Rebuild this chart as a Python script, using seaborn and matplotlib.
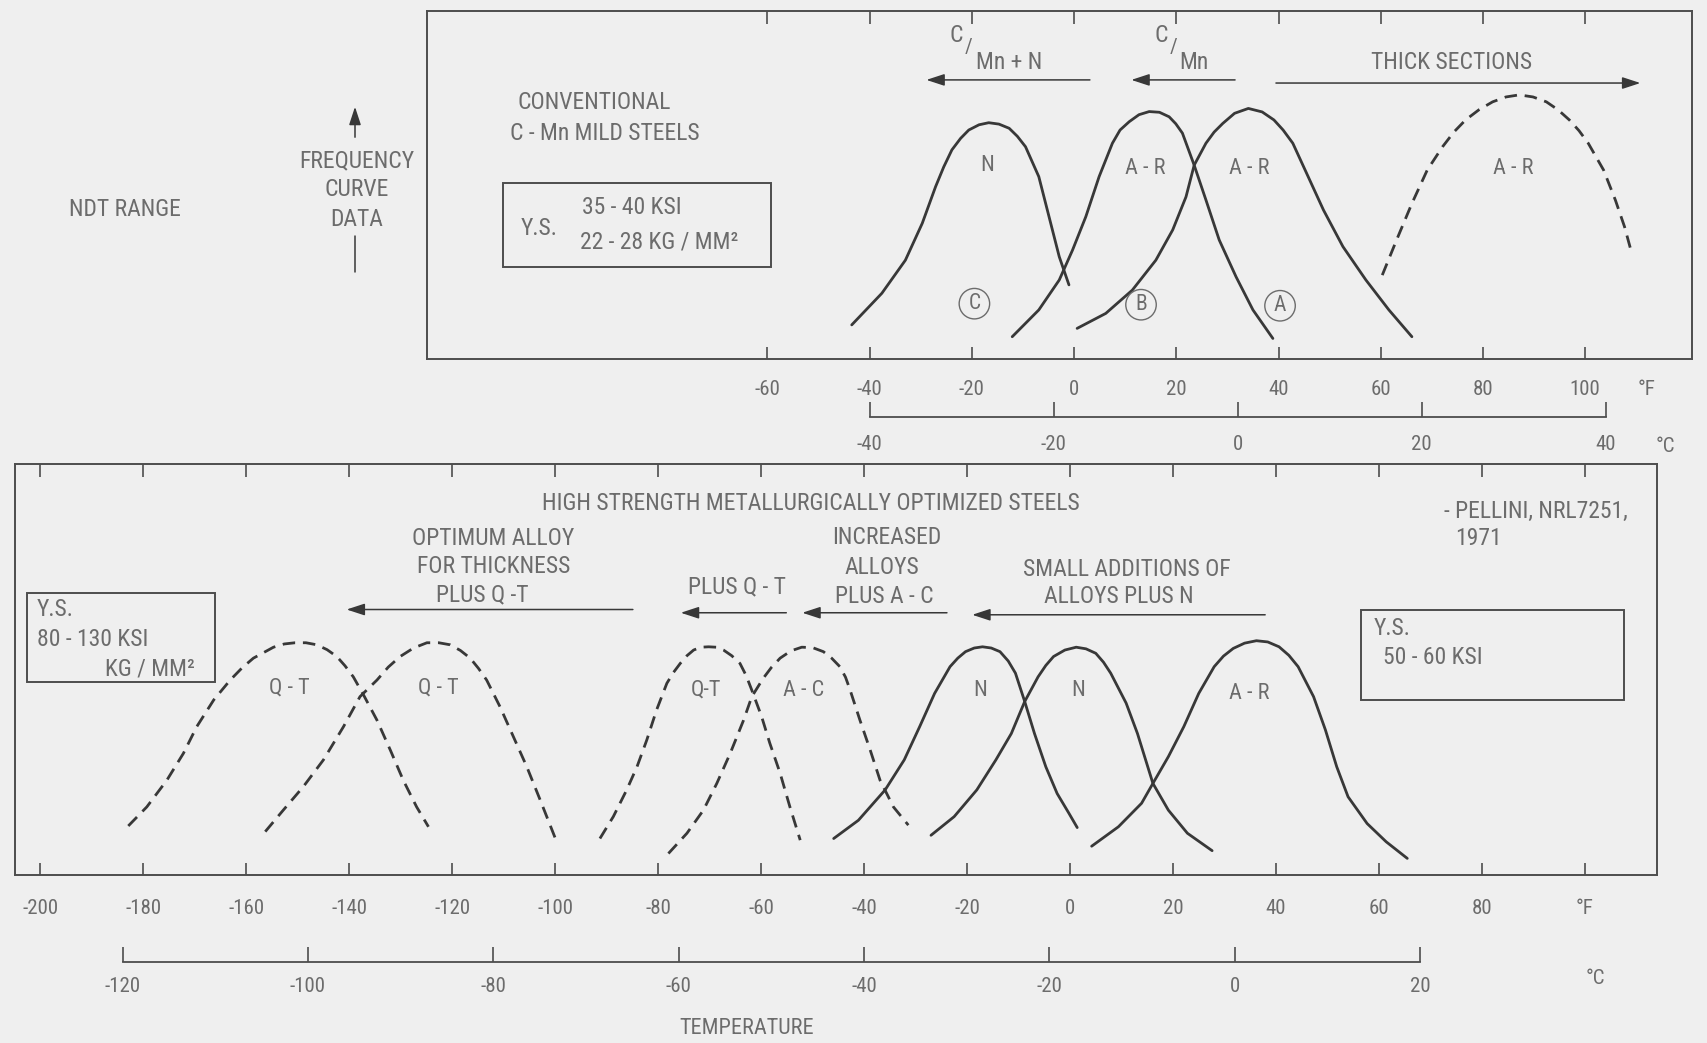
import numpy as np
import pandas as pd
import matplotlib
matplotlib.use("Agg")
import matplotlib.pyplot as plt
from matplotlib import font_manager
from matplotlib.patches import Rectangle, FancyArrowPatch
from matplotlib.lines import Line2D
import seaborn as sns

# ---------------------------------------------------------------------------
# NDT temperature frequency curves (temperature in deg F, relative frequency)
# ---------------------------------------------------------------------------
# Conventional C-Mn mild steels
N_C_TEMP = [-43.5, -37.6, -33.0, -29.7, -27.1, -25.5, -23.9, -22.2, -20.6,
            -18.6, -16.7, -14.7, -12.7, -11.1, -9.5, -6.9, -4.9, -2.9, -1.0]
N_C_FREQ = [9.8, 18.9, 28.4, 39.0, 49.5, 55.2, 60.1, 63.4, 65.8,
            67.3, 67.9, 67.5, 66.3, 64.0, 61.0, 52.4, 40.9, 29.4, 21.3]

AR_B_TEMP = [-12.1, -6.9, -2.9, -0.3, 2.3, 4.9, 7.5, 9.0, 10.8, 12.7, 14.7,
             16.7, 18.6, 19.9, 21.2, 23.5, 25.8, 28.4, 31.7, 35.0, 38.9]
AR_B_FREQ = [6.4, 14.1, 22.7, 31.3, 40.9, 52.4, 62.0, 65.8, 68.2, 70.2, 71.1,
             70.9, 69.6, 67.6, 64.9, 55.7, 45.7, 34.2, 23.6, 14.1, 5.9]

AR_A_TEMP = [0.6, 6.2, 11.4, 16.0, 19.3, 21.9, 23.5, 25.8, 27.4, 29.1, 31.4,
             34.1, 36.8, 39.1, 40.9, 42.8, 45.8, 48.8, 52.6, 57.1, 61.6, 66.1]
AR_A_FREQ = [8.8, 13.1, 19.8, 28.4, 37.1, 46.6, 55.7, 62.0, 65.2, 67.7, 70.6,
             72.0, 71.0, 68.7, 65.8, 62.0, 52.4, 42.8, 32.3, 22.7, 14.1, 6.4]

AR_THICK_TEMP = [60.3, 63.1, 66.1, 69.1, 72.1, 74.3, 76.6, 79.2, 81.9, 84.5,
                 87.1, 89.8, 92.4, 94.7, 96.9, 98.8, 100.6, 103.6, 105.9,
                 107.7, 109.2]
AR_THICK_FREQ = [24.1, 34.2, 44.7, 54.3, 61.0, 65.2, 68.7, 71.6, 73.9, 75.3,
                 75.9, 75.3, 73.9, 71.6, 68.7, 65.6, 62.0, 54.3, 45.7,
                 38.0, 29.9]

# High strength metallurgically optimized steels
QT_1_TEMP = [-182.9, -179.3, -175.4, -172.2, -169.6, -166.3, -163.1, -160.8,
             -158.6, -154.7, -152.6, -150.5, -148.4, -146.3, -144.3, -142.4,
             -140.8, -139.2, -137.2, -134.6, -132.0, -129.5, -126.9, -124.6]
QT_1_FREQ = [10.9, 15.6, 22.2, 28.8, 35.4, 42.0, 46.9, 49.9,
             52.3, 55.0, 55.8, 56.1, 56.1, 55.6, 54.4, 52.7,
             50.4, 47.7, 43.2, 37.0, 29.6, 22.2, 15.6, 10.7]

QT_2_TEMP = [-156.3, -152.8, -148.9, -145.0, -141.1, -137.9, -134.6, -132.4,
             -130.1, -127.5, -124.9, -122.6, -120.4, -118.4, -116.5, -114.9,
             -113.3, -110.7, -108.1, -105.5, -102.9, -99.7]
QT_2_FREQ = [9.5, 14.8, 20.6, 27.2, 35.4, 42.8, 46.9, 50.1,
             52.7, 54.8, 56.1, 56.1, 55.6, 54.2, 52.3, 49.8,
             46.9, 40.3, 32.9, 25.5, 17.3, 7.0]

QT_3_TEMP = [-91.3, -88.7, -86.1, -84.1, -82.2, -80.3, -78.3, -77.0, -75.7,
             -74.4, -73.1, -71.7, -70.2, -68.7, -67.3, -65.7, -64.1, -62.9,
             -61.8, -59.9, -58.3, -56.3, -54.4, -52.4]
QT_3_FREQ = [7.8, 13.2, 19.8, 25.5, 32.1, 39.5, 46.1, 48.8, 51.0,
             52.9, 54.3, 55.0, 55.1, 55.0, 54.3, 52.9, 51.0, 48.0,
             44.4, 37.9, 31.3, 23.9, 15.6, 7.4]

AC_TEMP = [-78.0, -74.4, -71.2, -68.6, -66.0, -63.4, -61.8, -59.6, -58.0,
           -56.3, -54.2, -52.1, -50.0, -47.9, -46.3, -44.7, -43.6, -42.7,
           -40.8, -38.8, -36.9, -34.3, -31.4]
AC_FREQ = [4.1, 9.1, 14.8, 21.4, 28.8, 37.0, 42.8, 47.3, 50.0,
           52.3, 54.1, 55.0, 54.9, 53.9, 52.3, 50.2, 47.6, 44.4,
           37.0, 29.6, 22.2, 15.6, 11.1]

N_1_TEMP = [-45.9, -41.1, -35.9, -32.2, -29.2, -26.3, -23.3, -21.8, -20.3,
            -18.6, -17.0, -15.3, -13.6, -12.0, -10.6, -8.8, -6.9, -4.7, -2.5,
            -0.2, 1.4]
N_1_FREQ = [7.8, 12.3, 19.8, 27.2, 35.4, 43.6, 50.2, 52.3, 53.9,
            54.8, 55.1, 54.8, 53.9, 51.6, 48.6, 41.6, 33.7, 25.5, 18.9,
            14.0, 10.5]

N_2_TEMP = [-27.0, -22.5, -18.1, -14.4, -11.4, -8.8, -6.2, -4.7, -3.2, -1.0,
            1.2, 3.1, 5.0, 6.5, 7.9, 10.9, 13.1, 16.1, 19.1, 22.8, 27.6]
N_2_FREQ = [8.6, 13.2, 19.8, 27.2, 33.7, 41.6, 47.7, 50.5, 52.7, 54.3,
            55.0, 54.6, 53.5, 51.3, 48.6, 41.2, 33.7, 21.4, 14.8, 9.1, 4.8]

AR_HS_TEMP = [4.2, 9.4, 13.9, 16.1, 19.1, 22.1, 25.0, 28.0, 29.8, 31.7, 33.9,
              36.2, 38.4, 40.6, 42.5, 44.3, 47.3, 49.6, 51.8, 54.0, 57.7,
              61.4, 65.5]
AR_HS_FREQ = [5.9, 10.7, 16.5, 21.4, 28.0, 35.4, 43.6, 50.2, 52.8, 54.7, 56.0,
              56.6, 56.3, 55.1, 53.0, 50.2, 42.8, 34.6, 25.5, 18.1, 11.5,
              7.0, 2.9]

# Temperature scales
TOP_F_TICKS = [-60, -40, -20, 0, 20, 40, 60, 80, 100]
TOP_C_TICKS = [-40, -20, 0, 20, 40]
BOT_F_TICKS = [-200, -180, -160, -140, -120, -100, -80, -60, -40, -20, 0, 20,
               40, 60, 80, 100]
BOT_F_LABELS = ["-200", "-180", "-160", "-140", "-120", "-100", "-80", "-60",
                "-40", "-20", "0", "20", "40", "60", "80", "\u00b0F"]
BOT_C_TICKS = [-120, -100, -80, -60, -40, -20, 0, 20]

# ---------------------------------------------------------------------------
# Styling
# ---------------------------------------------------------------------------
BG = "#efefef"
INK = "#383838"
FRAME = "#4d4d4d"
TEXT = "#6c6c6c"


def pick_font(candidates):
    names = {f.name for f in font_manager.fontManager.ttflist}
    for name in candidates:
        if name in names:
            return name
    return "DejaVu Sans"


sns.set_theme(style="white")
FONT = pick_font(["Liberation Sans Narrow", "DejaVu Sans Condensed",
                  "Roboto Condensed", "Liberation Sans", "DejaVu Sans"])
plt.rcParams["font.family"] = [FONT, "DejaVu Sans"]
plt.rcParams["axes.unicode_minus"] = False

W, H = 1707, 1043
FS = 17        # annotation text
FS_CURVE = 16  # labels inside the curves
FS_TICK = 15


def fp(x, y):
    """Figure-fraction position of a point given in pixels from the top-left."""
    return x / W, 1 - y / H


def curve_frame(rows):
    parts = [pd.DataFrame({"curve": name, "kind": kind,
                           "temp_F": temps, "freq": freqs})
             for name, kind, temps, freqs in rows]
    return pd.concat(parts, ignore_index=True)


upper = curve_frame([
    ("C  N", "solid", N_C_TEMP, N_C_FREQ),
    ("B  A-R", "solid", AR_B_TEMP, AR_B_FREQ),
    ("A  A-R", "solid", AR_A_TEMP, AR_A_FREQ),
    ("thick A-R", "dashed", AR_THICK_TEMP, AR_THICK_FREQ),
])
lower = curve_frame([
    ("Q-T 1", "dashed", QT_1_TEMP, QT_1_FREQ),
    ("Q-T 2", "dashed", QT_2_TEMP, QT_2_FREQ),
    ("Q-T 3", "dashed", QT_3_TEMP, QT_3_FREQ),
    ("A-C", "dashed", AC_TEMP, AC_FREQ),
    ("N 1", "solid", N_1_TEMP, N_1_FREQ),
    ("N 2", "solid", N_2_TEMP, N_2_FREQ),
    ("A-R", "solid", AR_HS_TEMP, AR_HS_FREQ),
])

DASHES = {"solid": "", "dashed": (4.5, 2.8)}

fig = plt.figure(figsize=(W / 100, H / 100), dpi=100, facecolor=BG)
ax_top = fig.add_axes([427 / W, 1 - 359 / H, (1692 - 427) / W, (359 - 11) / H])
ax_bot = fig.add_axes([15 / W, 1 - 875 / H, (1657 - 15) / W, (875 - 464) / H])

for ax, df in ((ax_top, upper), (ax_bot, lower)):
    sns.lineplot(data=df, x="temp_F", y="freq", units="curve", style="kind",
                 dashes=DASHES, estimator=None, sort=False, color=INK,
                 linewidth=2.0, legend=False, ax=ax)
    for ln in ax.lines:
        ln.set_solid_joinstyle("round")
        ln.set_dash_joinstyle("round")
    ax.set_facecolor("none")
    ax.set_xlabel("")
    ax.set_ylabel("")
    ax.set_yticks([])
    for sp in ax.spines.values():
        sp.set_visible(True)
        sp.set_color(FRAME)
        sp.set_linewidth(1.4)

ax_top.set_xlim(-126.6, 120.9)
ax_top.set_ylim(0, 100)
ax_bot.set_xlim(-204.9, 114.0)
ax_bot.set_ylim(-1.2, 100.2)

ax_top.set_xticks(TOP_F_TICKS, [str(t) for t in TOP_F_TICKS])
ax_bot.set_xticks(BOT_F_TICKS, BOT_F_LABELS)
ax_top.tick_params(axis="x", direction="in", length=9, width=1.2, color=FRAME,
                   top=True, bottom=True, labeltop=False, pad=15,
                   labelsize=FS_TICK, labelcolor=TEXT)
ax_bot.tick_params(axis="x", direction="in", length=9, width=1.2, color=FRAME,
                   top=True, bottom=True, labeltop=False, pad=17,
                   labelsize=FS_TICK, labelcolor=TEXT)


# Celsius scales drawn as bracketed rulers below each panel
def f_to_c(f):
    return (np.asarray(f) - 32.0) * 5.0 / 9.0


def c_to_f(c):
    return np.asarray(c) * 9.0 / 5.0 + 32.0


for ax, loc, ticks, pad in ((ax_top, -0.1667, TOP_C_TICKS, 13),
                            (ax_bot, -0.2117, BOT_C_TICKS, 11)):
    sec = ax.secondary_xaxis(loc, functions=(f_to_c, c_to_f))
    sec.set_xticks(ticks, [str(t) for t in ticks])
    sec.spines["bottom"].set_bounds(ticks[0], ticks[-1])
    sec.spines["bottom"].set_color(FRAME)
    sec.spines["bottom"].set_linewidth(1.3)
    sec.tick_params(axis="x", direction="in", length=11, width=1.2,
                    color=FRAME, pad=pad, labelsize=FS_TICK, labelcolor=TEXT)
    sec.set_facecolor("none")

# unit labels
fig.text(*fp(1647, 389), "\u00b0F", color=TEXT, fontsize=FS_TICK, ha="center", va="center")
fig.text(*fp(1665, 446), "\u00b0C", color=TEXT, fontsize=FS_TICK, ha="center", va="center")
fig.text(*fp(1595, 978), "\u00b0C", color=TEXT, fontsize=FS_TICK, ha="center", va="center")
fig.text(*fp(747, 1029), "TEMPERATURE", color=TEXT, fontsize=FS_TICK + 1,
         ha="center", va="center")

# left-hand annotations
fig.text(*fp(125, 209), "NDT RANGE", color=TEXT, fontsize=FS, ha="center", va="center")
fig.text(*fp(357, 190), "FREQUENCY\nCURVE\nDATA", color=TEXT, fontsize=FS,
         ha="center", va="center", linespacing=1.35)
fig.add_artist(FancyArrowPatch(fp(355, 140), fp(355, 104), transform=fig.transFigure,
                               arrowstyle="-|>,head_length=0.55,head_width=0.18",
                               mutation_scale=20, color=INK, lw=1.1))
fig.add_artist(Line2D([fp(355, 236)[0]] * 2, [fp(355, 236)[1], fp(355, 272)[1]],
                      transform=fig.transFigure, color=INK, lw=1.1))

LABEL = dict(color=TEXT, fontsize=FS, ha="center", va="center")
LEFT = dict(color=TEXT, fontsize=FS, ha="left", va="center")
CURVE_LABEL = dict(color=TEXT, fontsize=FS_CURVE, ha="center", va="center")
ARROW = dict(arrowstyle="-|>,head_length=0.55,head_width=0.18",
             mutation_scale=20, color=INK, lw=1.1, shrinkA=0, shrinkB=0)


def arrow(ax, x_tail, x_tip, y):
    ax.annotate("", xy=(x_tip, y), xytext=(x_tail, y), arrowprops=ARROW,
                annotation_clip=False)


# ---- upper panel annotations ----
ax_top.text(-93.9, 73.6, "CONVENTIONAL", **LABEL)
ax_top.text(-91.8, 64.9, "C - Mn MILD STEELS", **LABEL)
ax_top.add_patch(Rectangle((-111.7, 26.4), 52.4, 24.2, fill=False,
                           ec=FRAME, lw=1.4))
ax_top.text(-104.6, 37.6, "Y.S.", **LABEL)
ax_top.text(-96.2, 43.6, "35 - 40 KSI", **LEFT)
ax_top.text(-96.6, 33.6, "22 - 28 KG / MM\u00b2", **LEFT)

ax_top.text(-17.0, 55.6, "N", **CURVE_LABEL)
ax_top.text(13.9, 54.7, "A - R", **CURVE_LABEL)
ax_top.text(34.2, 54.7, "A - R", **CURVE_LABEL)
ax_top.text(85.9, 54.7, "A - R", **CURVE_LABEL)
for x, y, s in ((-19.5, 15.9, "C"), (13.1, 15.6, "B"), (40.3, 15.3, "A")):
    ax_top.text(x, y, s, color=TEXT, fontsize=15.5, ha="center", va="center",
                bbox=dict(boxstyle="circle,pad=0.22", fc="none", ec=TEXT, lw=1.0))

ax_top.text(-23.0, 93.0, "C", **LABEL)
ax_top.text(-20.6, 89.5, "/", color=TEXT, fontsize=15, ha="center", va="center")
ax_top.text(-12.8, 85.1, "Mn + N", **LABEL)
ax_top.text(17.1, 93.0, "C", **LABEL)
ax_top.text(19.5, 89.5, "/", color=TEXT, fontsize=15, ha="center", va="center")
ax_top.text(23.5, 85.1, "Mn", **LABEL)
ax_top.text(73.8, 85.1, "THICK SECTIONS", **LABEL)
arrow(ax_top, 3.1, -28.9, 80.2)
arrow(ax_top, 31.5, 11.2, 80.2)
arrow(ax_top, 39.5, 110.8, 79.3)

# ---- lower panel annotations ----
ax_bot.text(-50.3, 90.4, "HIGH STRENGTH METALLURGICALLY OPTIMIZED STEELS", **LABEL)
ax_bot.text(72.6, 88.5, "- PELLINI, NRL7251,", **LEFT)
ax_bot.text(74.8, 81.8, "1971", **LEFT)

ax_bot.text(-112.0, 81.8, "OPTIMUM ALLOY", **LABEL)
ax_bot.text(-112.0, 74.8, "FOR THICKNESS", **LABEL)
ax_bot.text(-114.1, 67.8, "PLUS Q -T", **LABEL)
arrow(ax_bot, -84.9, -140.5, 64.3)

ax_bot.text(-64.7, 69.9, "PLUS Q - T", **LABEL)
arrow(ax_bot, -55.1, -75.6, 63.5)

ax_bot.text(-35.5, 82.0, "INCREASED", **LABEL)
ax_bot.text(-36.5, 74.6, "ALLOYS", **LABEL)
ax_bot.text(-36.1, 67.4, "PLUS A - C", **LABEL)
arrow(ax_bot, -23.9, -52.0, 63.5)

ax_bot.text(11.0, 74.2, "SMALL ADDITIONS OF", **LABEL)
ax_bot.text(9.5, 67.5, "ALLOYS PLUS N", **LABEL)
arrow(ax_bot, 37.9, -19.0, 63.0)

ax_bot.add_patch(Rectangle((-202.5, 46.3), 36.4, 22.0, fill=False,
                           ec=FRAME, lw=1.4, clip_on=False))
ax_bot.text(-200.6, 64.3, "Y.S.", **LEFT)
ax_bot.text(-200.6, 56.8, "80 - 130 KSI", **LEFT)
ax_bot.text(-187.5, 49.6, "KG / MM\u00b2", **LEFT)

ax_bot.add_patch(Rectangle((56.5, 42.0), 51.1, 22.3, fill=False,
                           ec=FRAME, lw=1.4))
ax_bot.text(59.0, 59.7, "Y.S.", **LEFT)
ax_bot.text(60.7, 52.5, "50 - 60 KSI", **LEFT)

ax_bot.text(-151.7, 44.9, "Q - T", **CURVE_LABEL)
ax_bot.text(-122.6, 44.9, "Q - T", **CURVE_LABEL)
ax_bot.text(-70.8, 44.4, "Q-T", **CURVE_LABEL)
ax_bot.text(-51.8, 44.4, "A - C", **CURVE_LABEL)
ax_bot.text(-17.5, 44.4, "N", **CURVE_LABEL)
ax_bot.text(1.5, 44.4, "N", **CURVE_LABEL)
ax_bot.text(34.9, 43.6, "A - R", **CURVE_LABEL)

fig.savefig("out.png", dpi=100, facecolor=BG)
